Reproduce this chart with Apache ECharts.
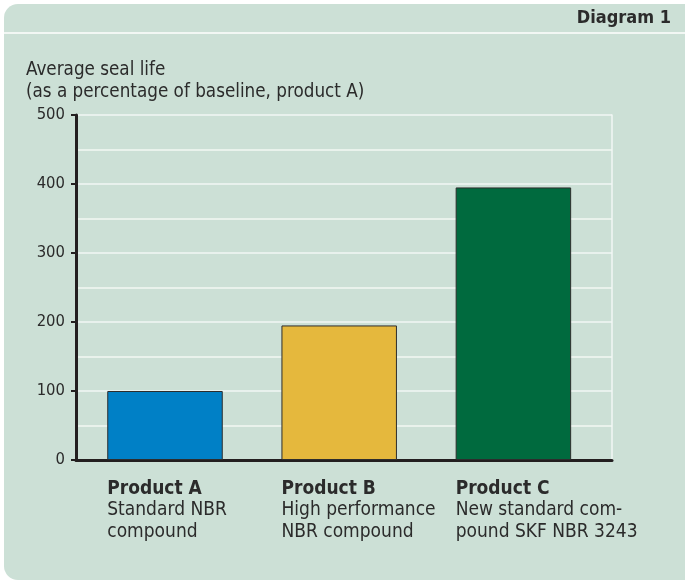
<!DOCTYPE html>
<html>
<head>
<meta charset="utf-8">
<script src="https://cdn.jsdelivr.net/npm/echarts@6/dist/echarts.min.js"></script>
<style>
  html, body { margin: 0; padding: 0; background: #fff; }
  #chart { width: 685px; height: 585px; }
</style>
</head>
<body>
<div id="chart"></div>
<script>
// data
const products = ['Product A', 'Product B', 'Product C'];
const descriptions = [
  ['Standard NBR', 'compound'],
  ['High performance', 'NBR compound'],
  ['New standard com-', 'pound SKF NBR 3243']
];
const sealLife = [100, 195, 395];
const barColors = ['#0080c6', '#e5b83d', '#006a3e'];

const FONT = '"DejaVu Sans Condensed", "DejaVu Sans", sans-serif';
const TEXT = '#2b2b2b';

// x axis is a value axis so the bars sit where they do in the original
const gridLeft = 76, gridRight = 612;
const pxPerSlot = 174.2;
const barPx = 115.5;
const xMin = -(165 - gridLeft) / pxPerSlot;
const xMax = xMin + (gridRight - gridLeft) / pxPerSlot;
const halfBar = (barPx / 2) / pxPerSlot;

const chart = echarts.init(document.getElementById('chart'));

chart.setOption({
  backgroundColor: '#fff',
  animation: false,
  graphic: [
    {
      type: 'rect',
      z: -10,
      shape: { x: 4, y: 4, width: 700, height: 576, r: 14 },
      style: { fill: '#cce0d6' }
    },
    {
      type: 'line',
      z: -9,
      shape: { x1: 4, y1: 33, x2: 685, y2: 33 },
      style: { stroke: '#f2f7f4', lineWidth: 2 }
    },
    {
      type: 'text',
      right: 14,
      top: 9,
      style: { text: 'Diagram 1', font: 'bold 18px ' + FONT, fill: TEXT }
    },
    {
      type: 'text',
      left: 26,
      top: 59,
      style: {
        text: 'Average seal life\n(as a percentage of baseline, product A)',
        font: '18.7px ' + FONT,
        lineHeight: 22,
        fill: TEXT
      }
    }
  ],
  grid: { left: gridLeft, right: 685 - gridRight, top: 115, bottom: 585 - 460 },
  xAxis: {
    type: 'value',
    min: xMin,
    max: xMax,
    splitLine: { show: false },
    axisTick: { show: false },
    axisLine: { onZero: false, lineStyle: { color: '#231f20', width: 3 } },
    axisLabel: {
      customValues: products.map((p, i) => i - halfBar),
      align: 'left',
      verticalAlign: 'top',
      margin: 18,
      formatter: (v) => {
        const i = Math.round(v + halfBar);
        return '{b|' + products[i] + '}\n' + descriptions[i].map(d => '{n|' + d + '}').join('\n');
      },
      rich: {
        b: { fontFamily: FONT, fontWeight: 'bold', fontSize: 19, color: TEXT, lineHeight: 21.5 },
        n: { fontFamily: FONT, fontSize: 19, color: TEXT, lineHeight: 21.5 }
      }
    }
  },
  yAxis: [
    {
      type: 'value',
      min: 0,
      max: 500,
      interval: 100,
      axisLine: { show: true, onZero: false, lineStyle: { color: '#231f20', width: 3 } },
      axisTick: { show: true, length: 5, lineStyle: { color: '#231f20', width: 2 } },
      axisLabel: { color: TEXT, fontFamily: FONT, fontSize: 16.5, margin: 11 },
      splitLine: { lineStyle: { color: '#f2f7f4', width: 1.5 } },
      minorTick: { show: false, splitNumber: 2 },
      minorSplitLine: { show: true, lineStyle: { color: '#f2f7f4', width: 1.5 } }
    },
    {
      type: 'value',
      position: 'right',
      min: 0,
      max: 500,
      axisLine: { show: true, onZero: false, lineStyle: { color: '#f2f7f4', width: 1.5 } },
      axisTick: { show: false },
      axisLabel: { show: false },
      splitLine: { show: false }
    }
  ],
  series: [{
    type: 'bar',
    barWidth: barPx,
    data: sealLife.map((v, i) => ({
      value: [i, v],
      itemStyle: { color: barColors[i], borderColor: '#2d2d2d', borderWidth: 1 }
    }))
  }]
});
</script>
</body>
</html>
